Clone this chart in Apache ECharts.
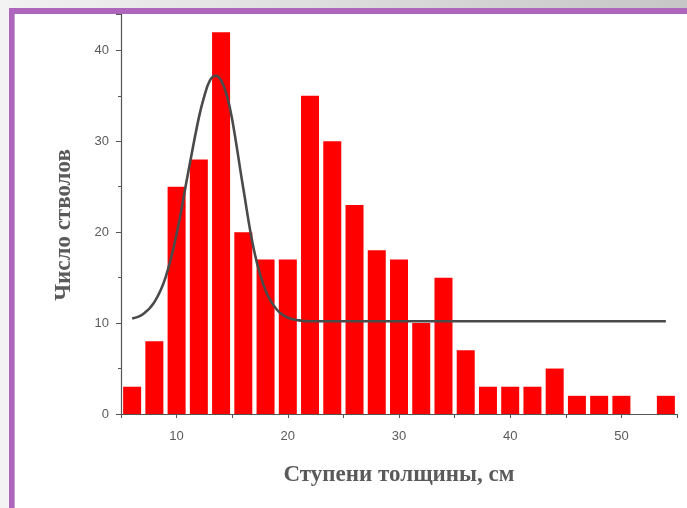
<!DOCTYPE html>
<html>
<head>
<meta charset="utf-8">
<script src="https://cdn.jsdelivr.net/npm/echarts@6/dist/echarts.min.js"></script>
<style>
html,body{margin:0;padding:0;background:#fff;}
#c{width:687px;height:508px;}
</style>
</head>
<body>
<div id="c"></div>
<script>
// Diameter class centres (cm) and number of stems per class
const binCentres = [6, 8, 10, 12, 14, 16, 18, 20, 22, 24, 26, 28, 30, 32, 34, 36, 38, 40, 42, 44, 46, 48, 50, 52, 54];
const stemCounts = [3, 8, 25, 28, 42, 20, 17, 17, 35, 30, 23, 18, 17, 10, 15, 7, 3, 3, 3, 5, 2, 2, 2, 0, 2];
// Fitted curve
const curveX = [6, 7, 8, 9, 10, 11, 12, 12.5, 13, 13.5, 14, 14.5, 15, 16, 17, 18, 19, 20, 21, 22, 54];
const curveY = [10.5, 11.0, 12.3, 15.0, 19.8, 26.3, 32.6, 35.0, 36.7, 37.2, 36.7, 35.1, 32.4, 24.8, 17.8, 13.6, 11.5, 10.6, 10.3, 10.2, 10.2];
const xTitle = 'Ступени толщины, см';
const yTitle = 'Число стволов';

const chart = echarts.init(document.getElementById('c'), null, {renderer: 'canvas'});
const axisCol = '#555';
const labelStyle = {color: '#5a5a5a', fontFamily: 'Liberation Sans, Arial, sans-serif', fontSize: 13};
const titleStyle = {color: '#5a5a5a', fontFamily: 'Liberation Serif, Times New Roman, serif', fontWeight: 'bold', fontSize: 23};

chart.setOption({
  animation: false,
  backgroundColor: '#fff',
  grid: {left: 121, top: 14, right: 10, bottom: 94, containLabel: false},
  xAxis: {
    type: 'value', min: 5, max: 55, interval: 5,
    name: xTitle, nameLocation: 'middle', nameGap: 50, nameTextStyle: titleStyle,
    axisLine: {show: true, lineStyle: {color: axisCol, width: 1.2}},
    axisTick: {show: true, length: 4, lineStyle: {color: axisCol}},
    axisLabel: Object.assign({margin: 16, formatter: v => (v % 10 === 0 ? String(v) : '')}, labelStyle),
    splitLine: {show: false}
  },
  yAxis: {
    type: 'value', min: 0, max: 44, interval: 10,
    name: yTitle, nameLocation: 'middle', nameGap: 45, nameRotate: 90,
    nameTextStyle: Object.assign({padding: [0, 22, 0, 0]}, titleStyle),
    axisLine: {show: true, lineStyle: {color: axisCol, width: 1.2}},
    axisTick: {show: true, length: 5, lineStyle: {color: axisCol}},
    minorTick: {show: true, splitNumber: 2, length: 3, lineStyle: {color: axisCol}},
    axisLabel: Object.assign({margin: 12, showMaxLabel: false, formatter: v => (v % 10 === 0 ? String(v) : '')}, labelStyle),
    splitLine: {show: false}
  },
  series: [
    {
      type: 'bar',
      data: binCentres.map((c, i) => [c, stemCounts[i]]),
      barWidth: 18,
      itemStyle: {color: '#fe0000', borderWidth: 0},
      z: 2
    },
    {
      type: 'line',
      data: curveX.map((x, i) => [x, curveY[i]]),
      smooth: 0.4,
      showSymbol: false,
      symbol: 'none',
      lineStyle: {color: '#4a4a4a', width: 2.6},
      z: 3
    }
  ],
  graphic: [
    {type: 'rect', z: 100, shape: {x: 0, y: 0, width: 687, height: 8},
      style: {fill: new echarts.graphic.LinearGradient(0, 0, 1, 0, [{offset: 0, color: '#f2f2f2'}, {offset: 1, color: '#c6c6c6'}])}},
    {type: 'rect', z: 100, shape: {x: 0, y: 0, width: 9, height: 508}, style: {fill: '#f3f3f3'}},
    {type: 'rect', z: 101, shape: {x: 9, y: 8, width: 678, height: 6}, style: {fill: '#ad66bc'}},
    {type: 'rect', z: 101, shape: {x: 9, y: 8, width: 6, height: 500}, style: {fill: '#ad66bc'}},
    {type: 'rect', z: 102, shape: {x: 14, y: 14, width: 1, height: 494}, style: {fill: '#c89ad2'}}
  ]
});
</script>
</body>
</html>
